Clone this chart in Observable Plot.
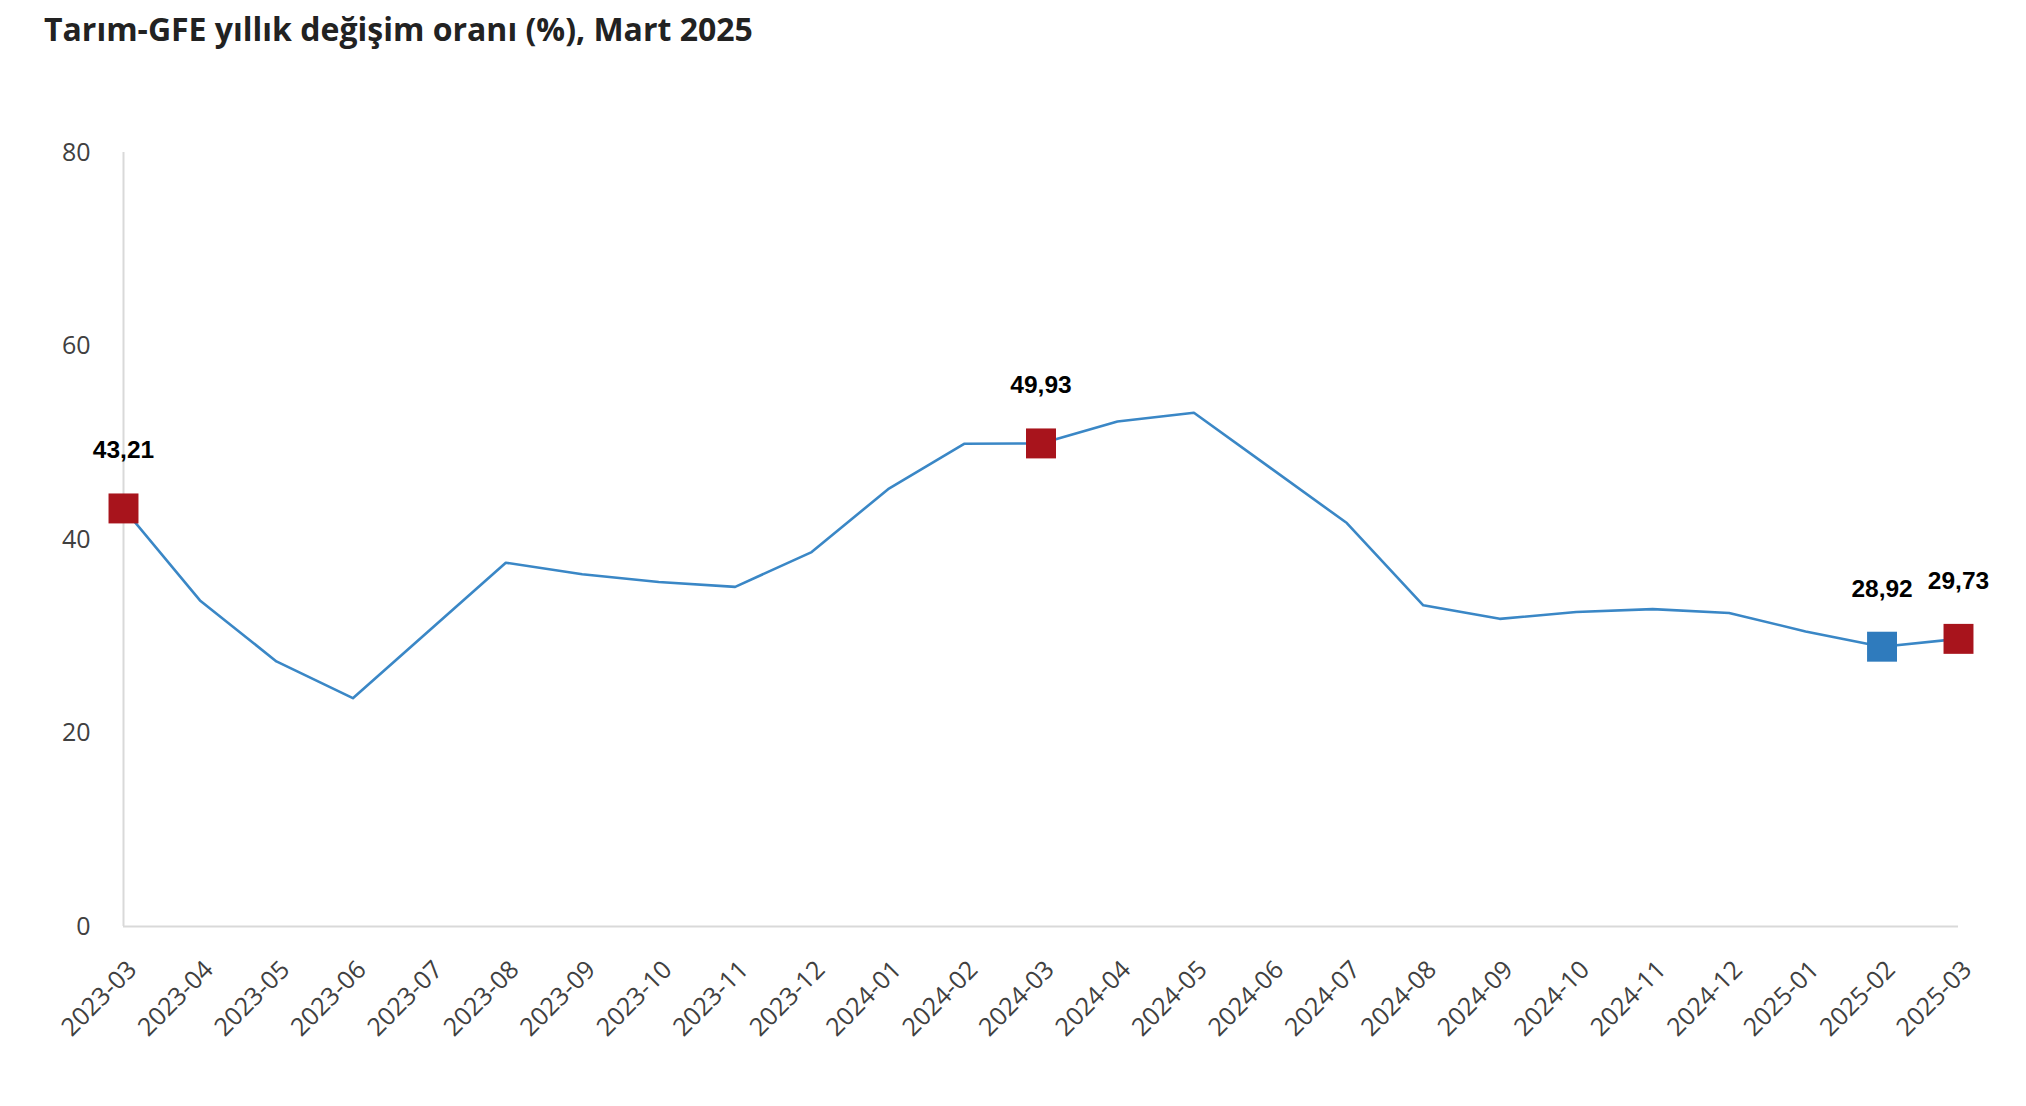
<!DOCTYPE html>
<html>
<head>
<meta charset="utf-8">
<script src="https://cdn.jsdelivr.net/npm/d3@7"></script>
<script src="https://cdn.jsdelivr.net/npm/@observablehq/plot@0.6"></script>
<style>
  html, body { margin: 0; padding: 0; background: #fff; }
  #title { height: 60px; box-sizing: border-box; padding-left: 44px; padding-top: 7px; line-height: normal;
    font-family: "Open Sans", sans-serif; font-weight: 700; font-size: 32px; color: #222; white-space: nowrap; }
</style>
</head>
<body>
<div id="title">Tarım-GFE yıllık değişim oranı (%), Mart 2025</div>
<div id="chart"></div>
<script>
const months = ["2023-03","2023-04","2023-05","2023-06","2023-07","2023-08","2023-09","2023-10","2023-11","2023-12",
  "2024-01","2024-02","2024-03","2024-04","2024-05","2024-06","2024-07","2024-08","2024-09","2024-10","2024-11","2024-12",
  "2025-01","2025-02","2025-03"];
const values = [43.21, 33.7, 27.4, 23.6, 30.6, 37.6, 36.4, 35.6, 35.1, 38.7,
  45.2, 49.9, 49.93, 52.2, 53.1, 47.4, 41.7, 33.2, 31.8, 32.5, 32.8, 32.4,
  30.5, 28.92, 29.73];
const highlightMonths = ["2023-03", "2024-03", "2025-02", "2025-03"];
const highlightKind = ["annual", "annual", "previous", "annual"];
const yTicks = [0, 20, 40, 60, 80];

const data = months.map((m, i) => ({month: m, value: values[i]}));
const hl = highlightMonths.map((m, i) => ({month: m, value: values[months.indexOf(m)], kind: highlightKind[i]}));
const fmt = v => v.toFixed(2).replace(".", ",");
const kindColor = {annual: "#a8141c", previous: "#2f7bbd"};

const chart = Plot.plot({
  width: 2026,
  height: 1046,
  marginLeft: 123,
  marginRight: 68,
  marginTop: 92,
  marginBottom: 180,
  style: {fontFamily: "'Open Sans', sans-serif", background: "#fff"},
  x: {type: "point", domain: months, padding: 0, round: false, label: null},
  y: {domain: [0, 80], ticks: yTicks, label: null},
  marks: [
    Plot.ruleX([months[0]], {stroke: "#d9d9d9", strokeWidth: 2}),
    Plot.ruleY([0], {stroke: "#d9d9d9", strokeWidth: 2}),
    Plot.axisY({ticks: yTicks, tickSize: 0, tickPadding: 33, fontSize: 25, fill: "#404040", label: null}),
    Plot.axisX({tickSize: 0, tickPadding: 39, dx: 9, tickRotate: -45, fontSize: 25, fill: "#404040", label: null}),
    Plot.line(data, {x: "month", y: "value", stroke: "#3a87c6", strokeWidth: 2.6}),
    Plot.dot(hl, {x: "month", y: "value", symbol: "square", r: 16.9, fill: d => kindColor[d.kind], stroke: "none"}),
    Plot.text(hl, {x: "month", y: "value", text: d => fmt(d.value), dy: -58, fontSize: 24.5, fontWeight: 700,
      fill: "#000", fontFamily: "'Liberation Sans', Arial, sans-serif"})
  ]
});
document.getElementById("chart").appendChild(chart);
</script>
</body>
</html>
